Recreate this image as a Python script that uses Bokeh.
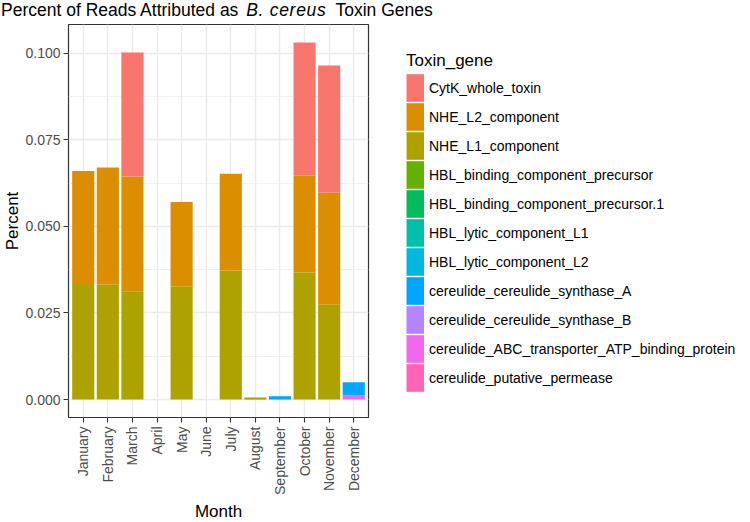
import math
from bokeh.plotting import figure
from bokeh.layouts import column
from bokeh.models import (Range1d, FixedTicker, Legend, LegendItem, Div,
                          ColumnDataSource, NumeralTickFormatter)
from bokeh.embed import file_html
from bokeh.resources import INLINE

months = ["January", "February", "March", "April", "May", "June", "July",
          "August", "September", "October", "November", "December"]

genes = ["CytK_whole_toxin", "NHE_L2_component", "NHE_L1_component",
         "HBL_binding_component_precursor", "HBL_binding_component_precursor.1",
         "HBL_lytic_component_L1", "HBL_lytic_component_L2",
         "cereulide_cereulide_synthase_A", "cereulide_cereulide_synthase_B",
         "cereulide_ABC_transporter_ATP_binding_protein", "cereulide_putative_permease"]

colors = ["#F8766D", "#DB8E00", "#AEA200", "#64B200", "#00BD5C", "#00C1A7",
          "#00BADE", "#00A6FF", "#B385FF", "#EF67EB", "#FF63B6"]

cytk = [0, 0, 0.0358, 0, 0, 0, 0, 0, 0, 0.0384, 0.0367, 0]
nhe_l2 = [0.0326, 0.0338, 0.0331, 0, 0.0243, 0, 0.0279, 0, 0, 0.0280, 0.0323, 0]
nhe_l1 = [0.0334, 0.0330, 0.0313, 0, 0.0327, 0, 0.0373, 0.0004, 0, 0.0367, 0.0274, 0]
hbl_bind = [0, 0, 0, 0, 0, 0, 0, 0, 0, 0, 0, 0]
hbl_bind1 = [0, 0, 0, 0, 0, 0, 0, 0, 0, 0, 0, 0]
hbl_l1 = [0, 0, 0, 0, 0, 0, 0, 0, 0, 0, 0, 0]
hbl_l2 = [0, 0, 0, 0, 0, 0, 0, 0, 0, 0, 0, 0]
syn_a = [0, 0, 0, 0, 0, 0, 0, 0.0002, 0.0010, 0, 0, 0.0038]
syn_b = [0, 0.0002, 0, 0, 0, 0, 0, 0, 0, 0, 0, 0]
abc = [0, 0, 0, 0, 0, 0, 0, 0, 0, 0, 0, 0.0012]
perm = [0, 0, 0, 0, 0, 0, 0, 0, 0, 0, 0, 0]

y_ticks = [0, 0.025, 0.05, 0.075, 0.1]
y_minor = [0.0125, 0.0375, 0.0625, 0.0875]

title_parts = ["Percent of Reads Attributed as ", "B. cereus", "Toxin Genes"]

series = [cytk, nhe_l2, nhe_l1, hbl_bind, hbl_bind1, hbl_l1, hbl_l2,
          syn_a, syn_b, abc, perm]

xpos = list(range(1, len(months) + 1))
data = {"x": xpos}
keys = []
for i, s in enumerate(series):
    k = "g%d" % i
    keys.append(k)
    data[k] = s
src = ColumnDataSource(data)

FONT = "Liberation Sans"

# ---- title (mixed roman / italic text)
title_html = (title_parts[0]
              + '<i style="margin-left:3px;letter-spacing:0.7px">' + title_parts[1] + '</i>'
              + '<span style="margin-left:9px">' + title_parts[2] + '</span>')
title = Div(text=title_html, width=750, height=24, margin=0,
            styles={"font-family": FONT, "font-size": "17.5px", "color": "black",
                    "line-height": "20px", "white-space": "nowrap",
                    "padding-left": "1px", "padding-top": "0px"})

# ---- main chart
p = figure(frame_width=300, frame_height=393, output_backend="svg",
           toolbar_location=None, title=None,
           x_range=Range1d(0.4, 12.6), y_range=Range1d(-0.00516, 0.10826),
           min_border_left=68, min_border_right=40,
           min_border_top=0, min_border_bottom=104)
p.background_fill_color = "white"
p.border_fill_color = "white"
p.outline_line_color = "#333333"
p.outline_line_width = 1.2

# stack bottom-to-top = reverse of legend order
bottom_keys = keys[::-1]
bottom_colors = colors[::-1]
rs = p.vbar_stack(bottom_keys, x="x", width=0.9, source=src,
                  fill_color=bottom_colors, line_color=None)

# legend swatches: single-point lines draw nothing in the plot, but give
# full-width filled keys in the legend
key_rs = [p.line(x=xpos[:1], y=s[:1], line_color=c, line_width=27.6)
          for s, c in zip(series, colors)]

# axes
p.xaxis.ticker = FixedTicker(ticks=xpos)
p.xaxis.major_label_overrides = {x: m for x, m in zip(xpos, months)}
p.xaxis.major_label_orientation = math.pi / 2
p.yaxis.ticker = FixedTicker(ticks=y_ticks, minor_ticks=y_minor)
p.yaxis.formatter = NumeralTickFormatter(format="0.000")
p.xaxis.axis_label = "Month"
p.yaxis.axis_label = "Percent"
for ax in (p.xaxis, p.yaxis):
    ax.axis_line_color = None
    ax.major_tick_line_color = "#333333"
    ax.major_tick_line_width = 1.1
    ax.major_tick_out = 5
    ax.major_tick_in = 0
    ax.minor_tick_line_color = None
    ax.major_label_text_font = FONT
    ax.major_label_text_font_size = "14px"
    ax.major_label_text_color = "#4D4D4D"
    ax.major_label_standoff = 3
    ax.axis_label_text_font = FONT
    ax.axis_label_text_font_size = "17px"
    ax.axis_label_text_font_style = "normal"
    ax.axis_label_text_color = "black"
    ax.axis_label_standoff = 0
p.xaxis.major_label_standoff = 4
p.xaxis.axis_label_standoff = 4

p.xgrid.grid_line_color = "#EBEBEB"
p.xgrid.grid_line_width = 1.4
p.ygrid.grid_line_color = "#EBEBEB"
p.ygrid.grid_line_width = 1.4
p.ygrid.minor_grid_line_color = "#EBEBEB"
p.ygrid.minor_grid_line_width = 0.7

# legend
items = [LegendItem(label=g, renderers=[r]) for g, r in zip(genes, key_rs)]
legend = Legend(items=items, title="Toxin_gene", location=(38, 25),
                orientation="vertical", glyph_width=18, glyph_height=29,
                spacing=0, label_standoff=5, padding=0, margin=0,
                border_line_color=None, background_fill_alpha=0,
                label_text_font=FONT, label_text_font_size="14px",
                label_text_color="black", label_height=29,
                title_text_font=FONT, title_text_font_size="17px",
                title_text_font_style="normal", title_text_color="black",
                title_standoff=2)
p.add_layout(legend, "right")

open("out.html", "w").write(file_html(column(title, p, spacing=0), INLINE))
